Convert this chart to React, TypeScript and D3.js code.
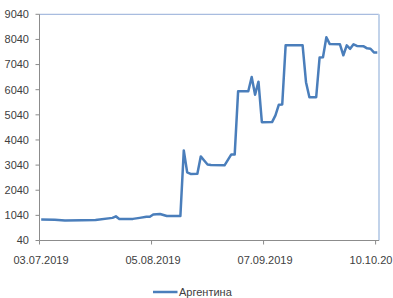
import React from 'react'
import * as d3 from 'd3'

// dates (day.month) and values
const dates = [
  '03.07', '07.07', '10.07', '15.07', '19.07', '24.07', '25.07', '26.07', '30.07',
  '01.08', '03.08', '04.08', '05.08', '07.08', '09.08', '13.08', '14.08', '15.08',
  '16.08', '18.08', '19.08', '20.08', '21.08', '22.08', '26.08', '28.08', '29.08',
  '30.08', '02.09', '03.09', '04.09', '05.09', '06.09', '09.09', '10.09', '11.09',
  '12.09', '13.09', '18.09', '19.09', '20.09', '22.09', '23.09', '24.09', '25.09',
  '26.09', '29.09', '30.09', '01.10', '02.10', '03.10', '04.10', '06.10', '07.10',
  '08.10', '09.10', '10.10',
]
const values = [
  880, 870, 840, 845, 860, 940, 1000, 900, 900,
  940, 985, 985, 1075, 1095, 1015, 1015, 3625, 2750,
  2690, 2700, 3385, 3225, 3065, 3040, 3030, 3465, 3465,
  5975, 5975, 6545, 5842, 6360, 4745, 4750, 5020, 5445,
  5450, 7805, 7805, 6340, 5740, 5740, 7320, 7330, 8125,
  7855, 7845, 7410, 7805, 7665, 7845, 7780, 7765, 7685,
  7670, 7525, 7525,
]
const seriesName = 'Аргентина'
const yTicks = [40, 1040, 2040, 3040, 4040, 5040, 6040, 7040, 8040, 9040]
const xTickLabels = ['03.07.2019', '05.08.2019', '07.09.2019', '10.10.2019']

const parse = (s: string) => {
  const [dd, mm] = s.split('.').map(Number)
  return new Date(Date.UTC(2019, mm - 1, dd))
}
const halfDay = 12 * 3600 * 1000

export default function App() {
  const width = 393
  const height = 298
  const left = 39.5
  const right = 379
  const top = 14.3
  const bottom = 240.5

  const x = d3
    .scaleUtc()
    .domain([parse('03.07'), parse('11.10')])
    .range([left, right])
  const y = d3.scaleLinear().domain([40, 9040]).range([bottom, top])

  const points = dates.map((d, i) => ({ date: parse(d), value: values[i] }))
  const line = d3
    .line<{ date: Date; value: number }>()
    .x(p => x(new Date(p.date.getTime() + halfDay)))
    .y(p => y(p.value))

  const font = '"Liberation Sans", Arial, sans-serif'
  const axisColor = '#8c8c8c'

  return (
    <svg
      width={width}
      height={height}
      style={{ position: 'absolute', left: 0, top: 0, background: '#fff' }}
      fontFamily={font}
      fontSize={11}
    >
      {/* frame */}
      <line x1={left} x2={right} y1={top} y2={top} stroke="#93acd8" strokeWidth={1} />
      <line x1={right} x2={right} y1={top} y2={bottom} stroke="#c2d3ea" strokeWidth={2} />
      <line x1={left} x2={left} y1={top} y2={bottom} stroke={axisColor} />
      <line x1={left} x2={right} y1={bottom} y2={bottom} stroke={axisColor} />

      {yTicks.map(t => (
        <g key={t}>
          <line x1={left - 4} x2={left} y1={y(t)} y2={y(t)} stroke={axisColor} />
          <text x={29} y={y(t)} dy="0.35em" textAnchor="end" fill="#404040">
            {t}
          </text>
        </g>
      ))}

      {xTickLabels.map(t => {
        const [dd, mm] = t.split('.')
        const px = x(parse(`${dd}.${mm}`))
        return (
          <g key={t}>
            <line x1={px} x2={px} y1={bottom} y2={bottom + 4} stroke={axisColor} />
            <text x={px + 1.5} y={263.5} textAnchor="middle" fill="#404040">
              {t}
            </text>
          </g>
        )
      })}

      <path
        d={line(points) || ''}
        fill="none"
        stroke="#4a7ebb"
        strokeWidth={2.5}
        strokeLinejoin="round"
      />

      {/* legend */}
      <line x1={153} x2={177.5} y1={292} y2={292} stroke="#4a7ebb" strokeWidth={2.5} />
      <text x={179} y={292} dy="0.35em" fill="#404040">
        {seriesName}
      </text>
    </svg>
  )
}
